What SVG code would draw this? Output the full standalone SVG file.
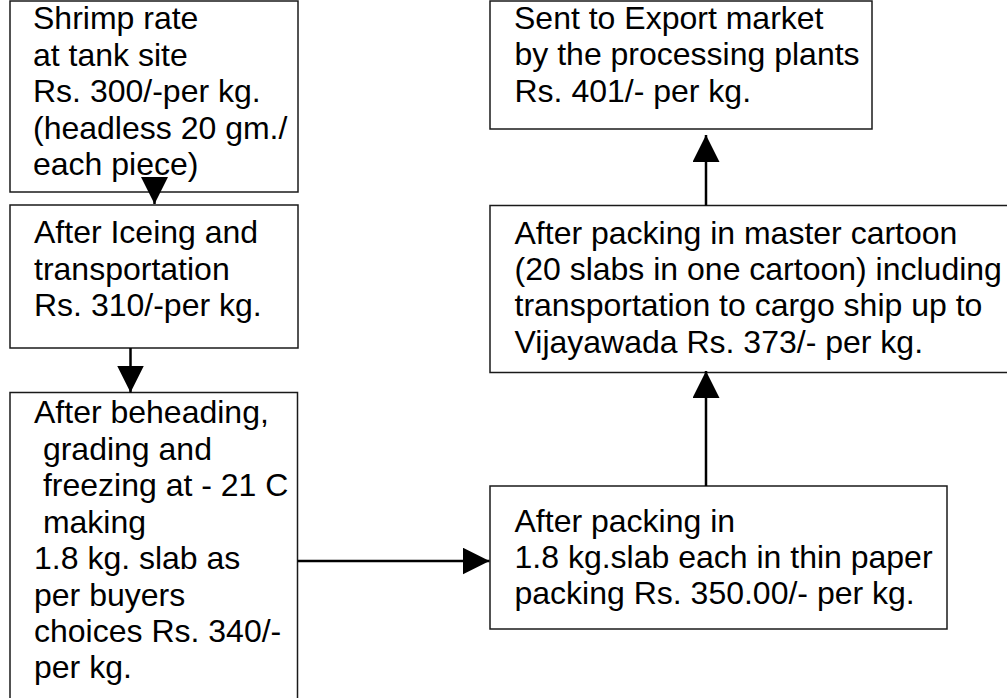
<svg xmlns="http://www.w3.org/2000/svg" width="1007" height="698" viewBox="0 0 1007 698">
  <style>
    .box { fill: #ffffff; stroke: #1a1a1a; stroke-width: 1.5; }
    .lbl { font-family: "Liberation Sans", Arial, sans-serif; font-size: 32px; fill: #000000; }
    .conn { stroke: #000000; stroke-width: 2.5; fill: none; marker-end: url(#head); }
  </style>
  <defs>
    <marker id="head" markerUnits="userSpaceOnUse" markerWidth="27" markerHeight="27" refX="27" refY="13.5" orient="auto" viewBox="0 0 27 27">
      <path d="M0,0 L27,13.5 L0,27 Z" fill="#000000"/>
    </marker>
  </defs>
  <rect x="0" y="0" width="1007" height="698" fill="#ffffff"/>

  <g id="node-shrimp-rate">
    <rect class="box" x="10" y="1" width="288" height="191"/>
    <text class="lbl" x="33" y="29">Shrimp rate</text>
    <text class="lbl" x="33" y="65.5">at tank site</text>
    <text class="lbl" x="33" y="102">Rs. 300/-per kg.</text>
    <text class="lbl" x="33" y="138.5">(headless 20 gm./</text>
    <text class="lbl" x="33" y="175">each piece)</text>
  </g>

  <g id="node-iceing">
    <rect class="box" x="10" y="205" width="288" height="143"/>
    <text class="lbl" x="34" y="243">After Iceing and</text>
    <text class="lbl" x="34" y="279.5">transportation</text>
    <text class="lbl" x="34" y="316">Rs. 310/-per kg.</text>
  </g>

  <g id="node-beheading">
    <rect class="box" x="10" y="392.5" width="287.5" height="310"/>
    <text class="lbl" x="34" y="423" xml:space="preserve">After beheading,</text>
    <text class="lbl" x="34" y="459.5" xml:space="preserve"> grading and</text>
    <text class="lbl" x="34" y="496" xml:space="preserve"> freezing at - 21 C</text>
    <text class="lbl" x="34" y="532.5" xml:space="preserve"> making</text>
    <text class="lbl" x="34" y="569" xml:space="preserve">1.8 kg. slab as</text>
    <text class="lbl" x="34" y="605.5" xml:space="preserve">per buyers</text>
    <text class="lbl" x="34" y="642" xml:space="preserve">choices Rs. 340/-</text>
    <text class="lbl" x="34" y="678" xml:space="preserve">per kg.</text>
  </g>

  <g id="node-thin-paper">
    <rect class="box" x="490" y="486" width="457" height="143"/>
    <text class="lbl" x="514.5" y="531.5">After packing in</text>
    <text class="lbl" x="514.5" y="567.5">1.8 kg.slab each in thin paper</text>
    <text class="lbl" x="514.5" y="603.5">packing Rs. 350.00/- per kg.</text>
  </g>

  <g id="node-master-cartoon">
    <rect class="box" x="490" y="205.5" width="530" height="167"/>
    <text class="lbl" x="514.5" y="244">After packing in master cartoon</text>
    <text class="lbl" x="514.5" y="280">(20 slabs in one cartoon) including</text>
    <text class="lbl" x="514.5" y="316">transportation to cargo ship up to</text>
    <text class="lbl" x="514.5" y="352.5">Vijayawada Rs. 373/- per kg.</text>
  </g>

  <g id="node-export">
    <rect class="box" x="490" y="1" width="382" height="128"/>
    <text class="lbl" x="514" y="28.5">Sent to Export market</text>
    <text class="lbl" x="514.5" y="65">by the processing plants</text>
    <text class="lbl" x="514.5" y="101.5">Rs. 401/- per kg.</text>
  </g>

  <g id="connectors">
    <path class="conn" d="M154.5,180 L154.5,204"/>
    <path class="conn" d="M130.5,348 L130.5,392.5"/>
    <path class="conn" d="M297.5,561 L489.5,561"/>
    <path class="conn" d="M706,486 L706,371"/>
    <path class="conn" d="M706,205.5 L706,135"/>
  </g>
</svg>
